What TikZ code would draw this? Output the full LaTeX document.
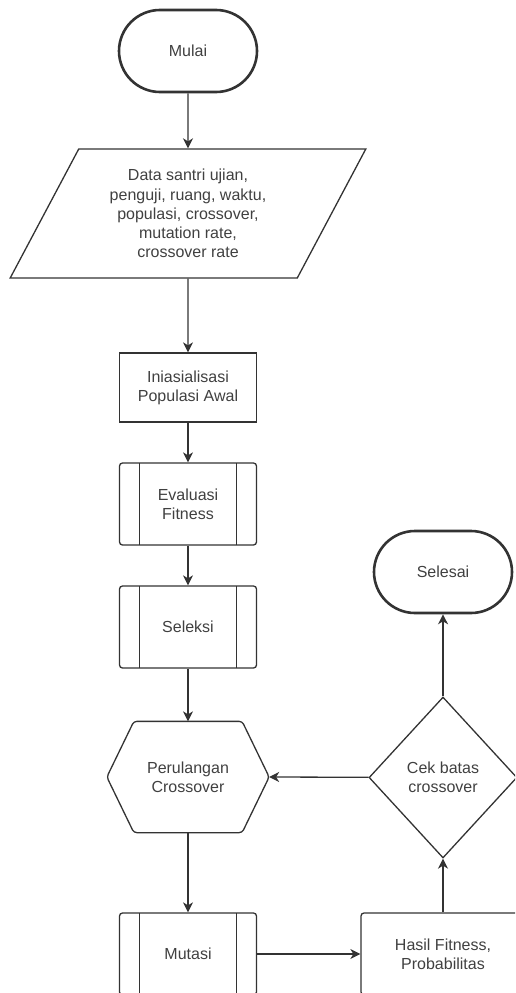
\documentclass[tikz,border=0pt]{standalone}
\usepackage{fontspec}
\setmainfont{Liberation Sans}
\usetikzlibrary{shapes.geometric, arrows.meta, positioning}
\colorlet{myline}{black!80}
\colorlet{mytext}{black!75}
\tikzset{
	defaultstyle/.style={
		>={Stealth[length=10pt, width=10pt, inset=3pt]},
		line width=1.3pt,
		color=myline,
		x=1pt, y=-1pt,
		font=\fontsize{16}{19.2}\selectfont}}

\begin{document}
\begin{tikzpicture}[defaultstyle,
	every node/.style={align=center, text=mytext, inner sep=0pt},
	myterm/.style={draw, line width=2.6pt, rounded corners=41pt, minimum width=138pt, minimum height=82pt},
	myio/.style={draw, trapezium, trapezium left angle=61, trapezium right angle=119,
		trapezium stretches=true, minimum width=356pt, minimum height=129pt},
	myproc/.style={draw, minimum width=137pt, minimum height=69pt},
	mysub/.style={draw, rounded corners=3pt, minimum width=137pt, minimum height=82pt,
		path picture={
			\draw[line width=1.3pt] ([xshift=20pt]path picture bounding box.north west) -- ([xshift=20pt]path picture bounding box.south west)
			([xshift=-20pt]path picture bounding box.north east) -- ([xshift=-20pt]path picture bounding box.south east);}},
	mydecision/.style={draw, diamond, minimum width=148pt, minimum height=161pt},
	myresult/.style={draw, rounded corners=3pt, minimum width=164pt, minimum height=82pt},
	]
	
	\useasboundingbox (0, 0) rectangle (515, 993);
	\clip (0, 0) rectangle (515, 993);
	
	% left column
	\node[myterm] (start) at (188, 51) {Mulai};
	\node[myio] (data) at (188, 213.5) {Data santri ujian,\\ penguji, ruang, waktu,\\ populasi, crossover,\\ mutation rate,\\ crossover rate};
	\node[myproc] (init) at (188, 387.5) {Iniasialisasi\\ Populasi Awal};
	\node[mysub] (eval) at (188, 504) {Evaluasi\\ Fitness};
	\node[mysub] (select) at (188, 627) {Seleksi};
	\node[minimum width=161pt, minimum height=110pt] (loop) at (188, 777) {Perulangan\\ Crossover};
	\draw[rounded corners=3pt] (loop.west) -- ([xshift=27pt]loop.north west) -- ([xshift=-27pt]loop.north east)
		-- (loop.east) -- ([xshift=-27pt]loop.south east) -- ([xshift=27pt]loop.south west) -- cycle;
	\node[mysub] (mutate) at (188, 954) {Mutasi};
	
	% right column
	\node[myresult] (result) at (443, 954) {Hasil Fitness,\\ Probabilitas};
	\node[mydecision] (check) at (443, 777.5) {Cek batas\\ crossover};
	\node[myterm] (finish) at (443, 572) {Selesai};
	
	\draw[->] (start) -- (data);
	\draw[->] (data) -- (init);
	\draw[->] (init) -- (eval);
	\draw[->] (eval) -- (select);
	\draw[->] (select) -- (loop);
	\draw[->] (loop) -- (mutate);
	\draw[->] (mutate) -- (result);
	\draw[->] (result) -- (check);
	\draw[->] (check) -- (loop.east);
	\draw[->] (check) -- (finish);
	
\end{tikzpicture}
\end{document}
